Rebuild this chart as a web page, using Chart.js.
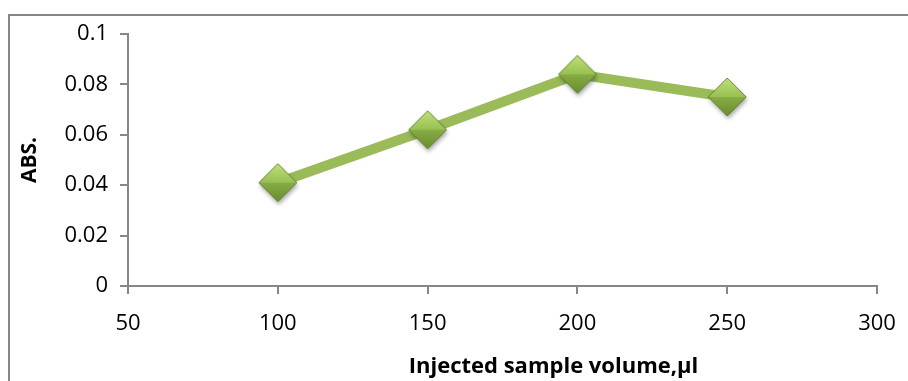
<!DOCTYPE html>
<html>
<head>
<meta charset="utf-8">
<script src="https://cdn.jsdelivr.net/npm/chart.js@4/dist/chart.umd.min.js"></script>
<style>
  html, body { margin: 0; padding: 0; background: #fff; overflow: hidden; }
  #frame { position: absolute; left: 8px; top: 14px; width: 1000px; height: 500px;
           border-left: 2px solid #868686; border-top: 2px solid #868686; }
  #chart { position: absolute; left: 0; top: 0; }
</style>
</head>
<body>
<div id="frame"></div>
<canvas id="chart" width="908" height="381"></canvas>
<script>
// Absorbance versus injected sample volume
const volumes = [100, 150, 200, 250];
const absorbance = [0.041, 0.062, 0.084, 0.075];
const xTickValues = [50, 100, 150, 200, 250, 300];
const yTickValues = [0, 0.02, 0.04, 0.06, 0.08, 0.1];
const xTitle = 'Injected sample volume,µl';
const yTitle = 'ABS.';

const FONT = '"Open Sans", Lato, "Liberation Sans", sans-serif';
const AXIS_GREY = '#868686';

// Bevelled diamond marker with a soft drop shadow
function makeDiamond(r) {
  const size = 2 * r + 12;
  const c = document.createElement('canvas');
  c.width = size; c.height = size;
  const g = c.getContext('2d');
  const cx = size / 2, cy = size / 2;
  const top = [cx, cy - r], right = [cx + r, cy], bottom = [cx, cy + r], left = [cx - r, cy];
  // shadow
  g.save();
  g.shadowColor = 'rgba(0,0,0,0.35)';
  g.shadowBlur = 4;
  g.shadowOffsetX = 1;
  g.shadowOffsetY = 3;
  g.beginPath();
  g.moveTo(...top); g.lineTo(...right); g.lineTo(...bottom); g.lineTo(...left); g.closePath();
  g.fillStyle = '#7f9f3d';
  g.fill();
  g.restore();
  // upper facets
  const up = g.createLinearGradient(0, cy - r, 0, cy);
  up.addColorStop(0, '#bfe07c');
  up.addColorStop(1, '#98c052');
  g.beginPath();
  g.moveTo(...left); g.lineTo(...top); g.lineTo(...right); g.lineTo(cx, cy); g.closePath();
  g.fillStyle = up; g.fill();
  // lower facets
  const low = g.createLinearGradient(0, cy, 0, cy + r);
  low.addColorStop(0, '#87ad45');
  low.addColorStop(1, '#6a8c2f');
  g.beginPath();
  g.moveTo(...left); g.lineTo(cx, cy); g.lineTo(...right); g.lineTo(...bottom); g.closePath();
  g.fillStyle = low; g.fill();
  // edge
  g.beginPath();
  g.moveTo(...top); g.lineTo(...right); g.lineTo(...bottom); g.lineTo(...left); g.closePath();
  g.strokeStyle = 'rgba(90,120,40,0.8)';
  g.lineWidth = 1;
  g.stroke();
  return c;
}
const marker = makeDiamond(19);

// Horizontal axis title, set off to the right of centre
const xTitlePlugin = {
  id: 'xTitleText',
  afterDraw(chart) {
    const { ctx, chartArea: a } = chart;
    ctx.save();
    ctx.font = 'bold 22px ' + FONT;
    ctx.fillStyle = '#000';
    ctx.textAlign = 'center';
    ctx.textBaseline = 'middle';
    ctx.fillText(xTitle, (a.left + a.right) / 2 + 51, a.bottom + 81);
    ctx.restore();
  }
};

new Chart(document.getElementById('chart'), {
  type: 'line',
  data: {
    datasets: [{
      data: volumes.map((v, i) => ({ x: v, y: absorbance[i] })),
      borderColor: '#9bbb59',
      borderWidth: 10,
      pointStyle: marker,
      pointRadius: 19,
      pointHoverRadius: 19,
      tension: 0,
      fill: false
    }]
  },
  options: {
    responsive: false,
    animation: false,
    events: [],
    layout: { padding: { top: 34, right: 31, left: 0, bottom: 0 } },
    plugins: { legend: { display: false }, tooltip: { enabled: false } },
    scales: {
      x: {
        type: 'linear',
        min: xTickValues[0],
        max: xTickValues[xTickValues.length - 1],
        afterBuildTicks: s => { s.ticks = xTickValues.map(v => ({ value: v })); },
        afterFit: s => { s.height = 95; s.paddingLeft = 0; s.paddingRight = 0; },
        grid: { display: true, drawOnChartArea: false, drawTicks: true, tickLength: 8,
                color: AXIS_GREY, lineWidth: 2 },
        border: { display: true, color: AXIS_GREY, width: 2 },
        ticks: { color: '#000', font: { family: FONT, size: 22 }, padding: 17,
                 maxRotation: 0, autoSkip: false, callback: v => String(v) }
      },
      y: {
        min: yTickValues[0],
        max: yTickValues[yTickValues.length - 1],
        afterBuildTicks: s => { s.ticks = yTickValues.map(v => ({ value: v })); },
        afterFit: s => { s.width = 128; s.paddingTop = 0; s.paddingBottom = 0; },
        grid: { display: true, drawOnChartArea: false, drawTicks: true, tickLength: 8,
                color: AXIS_GREY, lineWidth: 2 },
        border: { display: true, color: AXIS_GREY, width: 2 },
        title: { display: true, text: yTitle, color: '#000',
                 font: { family: FONT, size: 21, weight: 'bold' }, padding: { top: 17, bottom: 0 } },
        ticks: { color: '#000', font: { family: FONT, size: 22 }, padding: 12,
                 autoSkip: false, callback: v => String(v) }
      }
    }
  },
  plugins: [xTitlePlugin]
});
</script>
</body>
</html>
